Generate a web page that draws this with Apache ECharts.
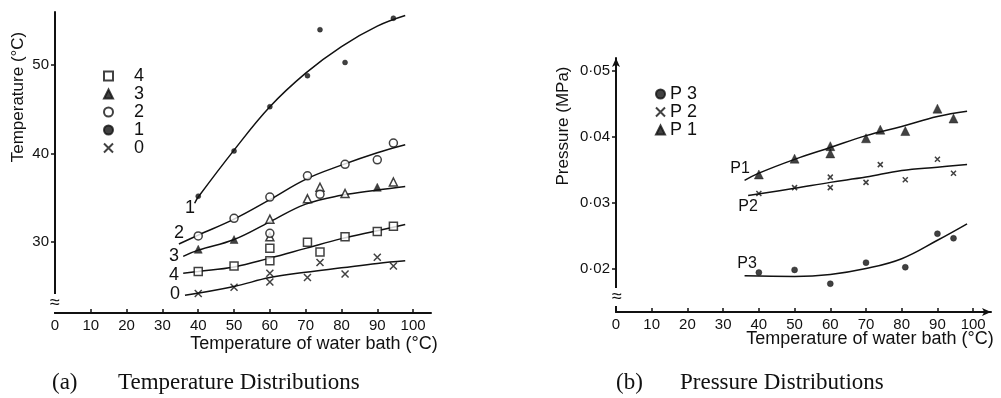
<!DOCTYPE html>
<html>
<head>
<meta charset="utf-8">
<script src="https://cdn.jsdelivr.net/npm/echarts@6/dist/echarts.min.js"></script>
<style>
  html, body { margin: 0; padding: 0; background: #fff; }
  #chart { width: 1001px; height: 398px; }
</style>
</head>
<body>
<div id="chart"></div>
<script>
// (a) temperature, points as [bath temp, temp]
const temp4 = [[40, 26.7], [50, 27.3], [60, 29.3], [60, 27.9], [70.5, 30.0], [74, 28.9], [81, 30.6], [90, 31.2], [94.5, 31.8]];
const temp3Filled = [[40, 29.2], [50, 30.3], [90, 36.2]];
const temp3Open = [[60, 32.6], [60, 30.6], [70.5, 34.9], [74, 36.2], [81, 35.5], [94.5, 36.8]];
const temp2 = [[40, 30.7], [50, 32.7], [60, 35.1], [60, 31.0], [70.5, 37.5], [74, 35.4], [81, 38.8], [90, 39.3], [94.5, 41.2]];
const temp1 = [[40, 35.2], [50, 40.3], [60, 45.3], [70.5, 48.8], [74, 54.0], [81, 50.3], [94.5, 55.3]];
const temp0 = [[40, 24.2], [50, 24.9], [60, 26.5], [60, 25.5], [70.5, 26.0], [74, 27.7], [81, 26.4], [90, 28.3], [94.5, 27.3]];

// fitted curves as drawn in the figure
const curve4 = [[35.8, 26.5], [40, 26.7], [50, 27.2], [60, 28.2], [70, 29.3], [80, 30.4], [90, 31.3], [97.8, 32.0]];
const curve3 = [[35.8, 28.4], [40, 29.1], [50, 30.3], [60, 32.3], [70, 34.3], [80, 35.3], [90, 35.9], [97.8, 36.3]];
const curve2 = [[34.6, 29.8], [40, 30.8], [50, 32.6], [60, 34.8], [70, 37.1], [80, 38.7], [90, 40.1], [97.8, 41.0]];
const curve1 = [[39, 34.4], [40, 35.1], [50, 40.4], [60, 45.3], [70, 49.1], [80, 52.1], [90, 54.4], [97.8, 55.6]];
const curve0 = [[36.3, 24.0], [50, 25.0], [60, 26.0], [70, 26.6], [80, 27.1], [90, 27.6], [97.8, 27.9]];

// (b) pressure, MPa
const pres3 = [[40, 0.0194], [50, 0.0198], [60, 0.0177], [70, 0.0209], [81, 0.0202], [90, 0.0253], [94.5, 0.0246]];
const pres2 = [[40, 0.0314], [50, 0.0323], [60, 0.0339], [60, 0.0323], [70, 0.0331], [74, 0.0358], [81, 0.0335], [90, 0.0366], [94.5, 0.0345]];
const pres1 = [[40, 0.0343], [50, 0.0367], [60, 0.0386], [60, 0.0375], [70, 0.0398], [74, 0.0411], [81, 0.0409], [90, 0.0443], [94.5, 0.0428]];
const presCurve3 = [[36, 0.0189], [50, 0.0188], [60, 0.0191], [70, 0.0200], [80, 0.0215], [90, 0.0243], [98.3, 0.0268]];
const presCurve2 = [[37, 0.0311], [50, 0.0322], [60, 0.0331], [70, 0.0339], [80, 0.0349], [90, 0.0354], [98.3, 0.0358]];
const presCurve1 = [[36, 0.0334], [40, 0.0345], [50, 0.0366], [60, 0.0384], [70, 0.0402], [80, 0.0416], [90, 0.0431], [98.3, 0.0439]];

const xTicks = [0, 10, 20, 30, 40, 50, 60, 70, 80, 90, 100];
const tempTicks = [30, 40, 50];
const presTicks = [0.02, 0.03, 0.04, 0.05];

const FONT = 'Liberation Sans';
const INK = '#111';
const crossPath = 'path://M0,0L10,10M10,0L0,10';

const chart = echarts.init(document.getElementById('chart'));

const axisText = { color: INK, fontFamily: FONT, fontSize: 15 };

function xAxisFor(gridIndex, arrow) {
  return {
    type: 'value', gridIndex, min: 0, max: 105,
    axisLine: { show: true, lineStyle: { color: INK, width: 2 }, symbol: arrow ? ['none', 'arrow'] : 'none', symbolSize: [6, 9] },
    axisTick: { show: true, inside: true, length: 4, lineStyle: { color: INK, width: 1.5 }, customValues: xTicks },
    axisLabel: Object.assign({ margin: 5, customValues: xTicks }, axisText),
    splitLine: { show: false }
  };
}

function scatter(name, data, symbol, size, filled, xi) {
  return {
    type: 'scatter', name, data, symbol, symbolSize: size,
    xAxisIndex: xi, yAxisIndex: xi,
    itemStyle: filled
      ? { color: INK, borderColor: INK, borderWidth: 0.5 }
      : { color: symbol === crossPath ? 'rgba(0,0,0,0)' : '#fff', borderColor: INK, borderWidth: 1.5 },
    silent: true, z: 3
  };
}

function curve(data, xi) {
  return {
    type: 'line', data, xAxisIndex: xi, yAxisIndex: xi, smooth: 0.4,
    showSymbol: false, silent: true,
    lineStyle: { color: INK, width: 1.5 }, z: 2
  };
}

const textBase = { fill: INK, fontFamily: FONT };

function label(text, x, y, size) {
  return { type: 'text', x, y, style: Object.assign({ text, fontSize: size, align: 'center', verticalAlign: 'middle' }, textBase) };
}

chart.setOption({
  backgroundColor: '#fff',
  animation: false,
  grid: [
    { left: 55, top: 12, right: 570, bottom: 85 },
    { left: 616, top: 58, right: 10, bottom: 86 }
  ],
  xAxis: [xAxisFor(0, false), xAxisFor(1, true)],
  yAxis: [
    {
      type: 'value', gridIndex: 0, min: 22, max: 56,
      axisLine: { show: true, lineStyle: { color: INK, width: 2 } },
      axisTick: { show: true, length: 4, lineStyle: { color: INK, width: 1.5 }, customValues: tempTicks },
      axisLabel: Object.assign({ margin: 6, customValues: tempTicks }, axisText),
      splitLine: { show: false }
    },
    {
      type: 'value', gridIndex: 1, min: 0.0134, max: 0.052,
      axisLine: { show: true, lineStyle: { color: INK, width: 2 }, symbol: ['none', 'arrow'], symbolSize: [6, 9] },
      axisTick: { show: true, length: 4, lineStyle: { color: INK, width: 1.5 }, customValues: presTicks },
      axisLabel: Object.assign({
        margin: 6, customValues: presTicks,
        formatter: v => v.toFixed(2).replace('.', '·')
      }, axisText),
      splitLine: { show: false }
    }
  ],
  legend: [
    {
      data: ['4', '3', '2', '1', '0'], orient: 'vertical', left: 98, top: 62,
      itemWidth: 9, itemHeight: 9, itemGap: 0, selectedMode: false,
      textStyle: { color: INK, fontFamily: FONT, fontSize: 18, lineHeight: 17.5, padding: [0, 0, 0, 16] }
    },
    {
      data: ['P 3', 'P 2', 'P 1'], orient: 'vertical', left: 650, top: 80,
      itemWidth: 9, itemHeight: 9, itemGap: 0, selectedMode: false,
      textStyle: { color: INK, fontFamily: FONT, fontSize: 18, lineHeight: 17.5, padding: [0, 0, 0, 0] }
    }
  ],
  series: [
    scatter('4', temp4, 'rect', 8, false, 0),
    scatter('3', temp3Filled, 'triangle', 8, true, 0),
    scatter('3 open', temp3Open, 'triangle', 8, false, 0),
    scatter('2', temp2, 'circle', 8, false, 0),
    scatter('1', temp1, 'circle', 5, true, 0),
    scatter('0', temp0, crossPath, 7, false, 0),
    curve(curve4, 0), curve(curve3, 0), curve(curve2, 0), curve(curve1, 0), curve(curve0, 0),
    scatter('P 3', pres3, 'circle', 6, true, 1),
    scatter('P 2', pres2, crossPath, 5, false, 1),
    scatter('P 1', pres1, 'triangle', 9, true, 1),
    curve(presCurve3, 1), curve(presCurve2, 1), curve(presCurve1, 1)
  ],
  graphic: [
    // axis titles
    { type: 'text', x: 18, y: 97, rotation: Math.PI / 2,
      style: Object.assign({ text: 'Temperature (°C)', fontSize: 17, align: 'center', verticalAlign: 'middle' }, textBase) },
    label('Temperature of water bath (°C)', 314, 344, 18),
    { type: 'text', x: 563, y: 126, rotation: Math.PI / 2,
      style: Object.assign({ text: 'Pressure (MPa)', fontSize: 17, align: 'center', verticalAlign: 'middle' }, textBase) },
    label('Temperature of water bath (°C)', 870, 339, 18),
    // curve labels
    label('1', 190, 208, 18),
    label('2', 179, 233, 18),
    label('3', 174, 256, 18),
    label('4', 174, 275, 18),
    label('0', 175, 294, 18),
    label('P1', 740, 169, 16),
    label('P2', 748, 207, 16),
    label('P3', 747, 264, 16),
    // axis break marks
    { type: 'text', x: 55, y: 303, z: 10,
      style: Object.assign({ text: '≈', fontSize: 18, align: 'center', verticalAlign: 'middle', backgroundColor: '#fff' }, textBase) },
    { type: 'text', x: 617, y: 297, z: 10,
      style: Object.assign({ text: '≈', fontSize: 18, align: 'center', verticalAlign: 'middle', backgroundColor: '#fff' }, textBase) },
    // captions
    { type: 'text', x: 52, y: 383,
      style: { text: '(a)', fontSize: 23, fontFamily: 'Liberation Serif', fill: INK, verticalAlign: 'middle' } },
    { type: 'text', x: 118, y: 383,
      style: { text: 'Temperature Distributions', fontSize: 23, fontFamily: 'Liberation Serif', fill: INK, verticalAlign: 'middle' } },
    { type: 'text', x: 616, y: 383,
      style: { text: '(b)', fontSize: 23, fontFamily: 'Liberation Serif', fill: INK, verticalAlign: 'middle' } },
    { type: 'text', x: 680, y: 383,
      style: { text: 'Pressure Distributions', fontSize: 23, fontFamily: 'Liberation Serif', fill: INK, verticalAlign: 'middle' } }
  ]
});
</script>
</body>
</html>
